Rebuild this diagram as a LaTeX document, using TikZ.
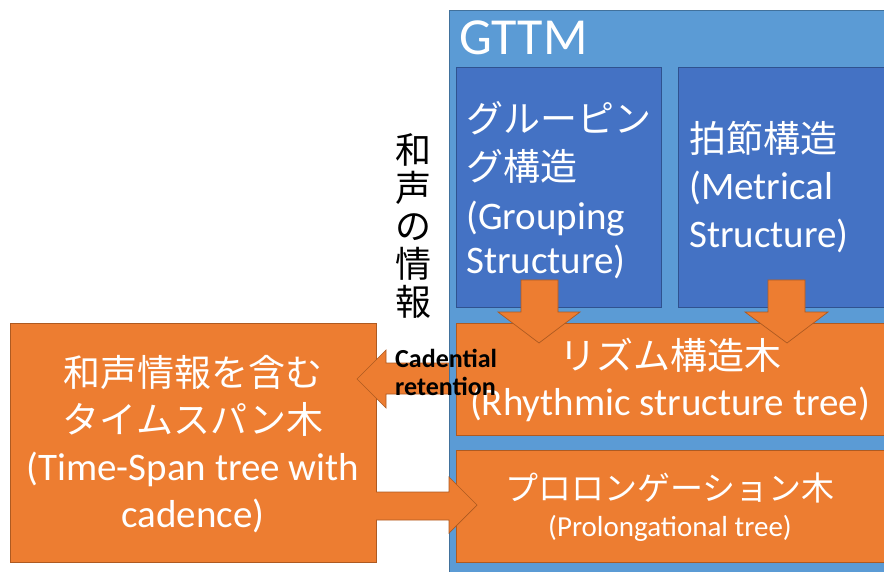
\documentclass[tikz,border=0pt]{standalone}
\usepackage{fontspec}
\setmainfont{Carlito}
\newfontfamily\jp{Noto Sans CJK JP}
\definecolor{outerblue}{HTML}{5B9BD5}
\definecolor{outerline}{HTML}{41719C}
\definecolor{innerblue}{HTML}{4472C4}
\definecolor{innerline}{HTML}{2F528F}
\definecolor{orfill}{HTML}{ED7D31}
\definecolor{orline}{HTML}{AE5A21}
\begin{document}
\begin{tikzpicture}[x=1pt,y=-1pt,
  obox/.style={draw=orline,fill=orfill,line width=0.8pt,anchor=north west,inner sep=0pt,outer sep=0pt},
  bbox/.style={draw=innerline,fill=innerblue,line width=0.8pt,anchor=north west,inner sep=0pt,outer sep=0pt},
  gbox/.style={draw=outerline,fill=outerblue,line width=0.8pt,anchor=north west,inner sep=0pt,outer sep=0pt},
  barrow/.style={draw=orline,fill=orfill,line width=0.7pt,line join=miter},
  jl/.style={text=white,inner sep=0pt,font=\jp\fontsize{37}{37}\selectfont},
  ll/.style={text=white,inner sep=0pt,font=\fontsize{39}{39}\selectfont},
  vt/.style={text=black,inner sep=0pt,anchor=base,font=\jp\fontsize{36}{36}\selectfont},
  cad/.style={text=black,inner sep=0pt,anchor=base west,font=\bfseries\fontsize{26}{26}\selectfont}]
\useasboundingbox (0,0) rectangle (884,572);
\clip (0,0) rectangle (884,572);
% left box
\node[obox,minimum width=366pt,minimum height=239pt] (ts) at (10,323) {};
% left arrow (behind GTTM box)
\draw[barrow] (449,363) -- (386,363) -- (386,350) -- (357,379) -- (386,408) -- (386,394) -- (449,394) ;
% GTTM box
\node[gbox,minimum width=450pt,minimum height=580pt] (gttm) at (449,10) {};
\node[bbox,minimum width=205pt,minimum height=240pt] (grp) at (456,67) {};
\node[bbox,minimum width=220pt,minimum height=240pt] (met) at (678,67) {};
\node[obox,minimum width=440pt,minimum height=112pt] (rhy) at (456,323) {};
\node[obox,minimum width=440pt,minimum height=112pt] (pro) at (456,450) {};
% down arrows
\draw[barrow] (521,280) -- (558,280) -- (558,312) -- (580,312) -- (539,343) -- (498,312) -- (521,312) -- cycle;
\draw[barrow] (768,280) -- (805,280) -- (805,312) -- (828,312) -- (787,343) -- (745,312) -- (768,312) -- cycle;
% right arrow
\draw[barrow] (376,492) -- (449,492) -- (449,477) -- (477,505) -- (449,533) -- (449,520) -- (376,520);
% texts
\node[text=white,inner sep=0pt,anchor=base west,font=\fontsize{52}{52}\selectfont] (tg) at (459,55) {GTTM};
\node[jl,anchor=base west] (g1) at (466,133) {グルーピン};
\node[jl,anchor=base west] (g2) at (466,181) {グ構造};
\node[ll,anchor=base west] (g3) at (466,230) {(Grouping};
\node[ll,anchor=base west] (g4) at (466,273) {Structure)};
\node[jl,anchor=base west] (m1) at (689,153) {拍節構造};
\node[ll,anchor=base west] (m2) at (689,200) {(Metrical};
\node[ll,anchor=base west] (m3) at (689,248) {Structure)};
\node[jl,anchor=base] (r1) at (670,369) {リズム構造木};
\node[ll,anchor=base] (r2) at (670,415) {(Rhythmic structure tree)};
\node[text=white,inner sep=0pt,anchor=base,font=\jp\fontsize{33}{33}\selectfont] (p1) at (670,500) {プロロンゲーション木};
\node[text=white,inner sep=0pt,anchor=base,font=\fontsize{29}{29}\selectfont] (p2) at (670,536) {(Prolongational tree)};
\node[jl,anchor=base] (t1) at (193,386) {和声情報を含む};
\node[jl,anchor=base] (t2) at (193,433) {タイムスパン木};
\node[ll,anchor=base] (t3) at (193,480) {(Time-Span tree with};
\node[ll,anchor=base] (t4) at (193,527) {cadence)};
% vertical label
\node[vt] (h1) at (413,164) {和};
\node[vt] (h2) at (413,202) {声};
\node[vt] (h3) at (413,240) {の};
\node[vt] (h4) at (413,278) {情};
\node[vt] (h5) at (413,316) {報};
% cadential retention
\node[cad] (c1) at (395,367) {Cadential};
\node[cad] (c2) at (395,395) {retention};
\end{tikzpicture}
\end{document}
